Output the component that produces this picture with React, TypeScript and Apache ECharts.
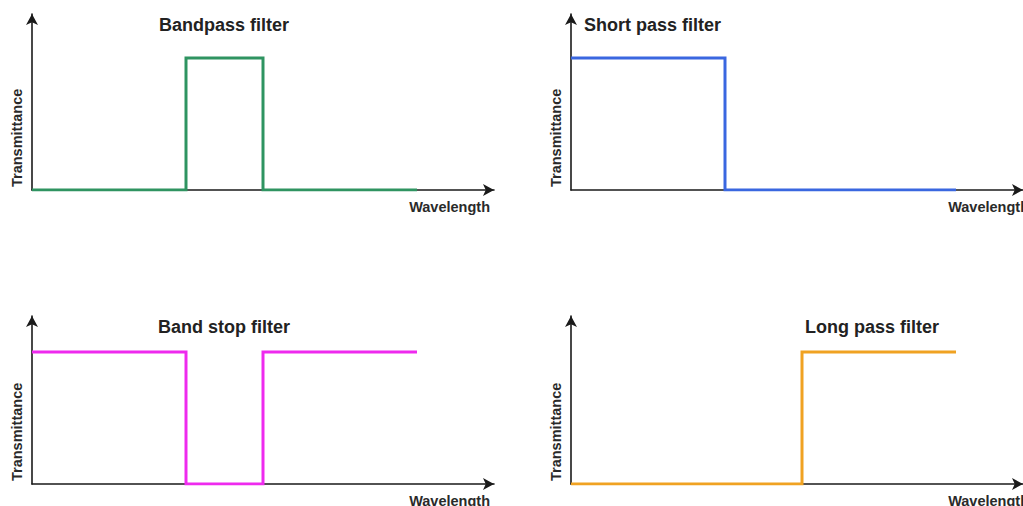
import React, { useEffect, useRef } from "react";
import * as echarts from "echarts";

const titles = ["Bandpass filter", "Short pass filter", "Band stop filter", "Long pass filter"];
const xAxisName = "Wavelength";
const yAxisName = "Transmittance";
const colors = ["#2f9461", "#3a67e0", "#ee2aee", "#f0a222"];

const bandpass: [number, number][] = [[0, 0], [4, 0], [4, 3], [6, 3], [6, 0], [10, 0]];
const shortpass: [number, number][] = [[0, 3], [4, 3], [4, 0], [10, 0]];
const bandstop: [number, number][] = [[0, 3], [4, 3], [4, 0], [6, 0], [6, 3], [10, 3]];
const longpass: [number, number][] = [[0, 0], [6, 0], [6, 3], [10, 3]];
const seriesData = [bandpass, shortpass, bandstop, longpass];

const xMaxLeft = 12;
const xMaxRight = 11.74;
const yMaxTop = 4;
const yMaxBottom = 3.82;

const grids = [
  { left: 32, top: 14, width: 462, height: 176 },
  { left: 571, top: 14, width: 452, height: 176 },
  { left: 32, top: 316, width: 462, height: 168 },
  { left: 571, top: 316, width: 452, height: 168 },
];
const titlePos = [
  { left: 224, top: 16, align: "center" },
  { left: 584, top: 16, align: "left" },
  { left: 224, top: 318, align: "center" },
  { left: 805, top: 318, align: "left" },
];

export default function App() {
  const ref = useRef<HTMLDivElement>(null);
  useEffect(() => {
    if (!ref.current) return;
    const chart = echarts.init(ref.current, null, { renderer: "svg" });
    const axisLine = {
      show: true,
      symbol: ["none", "arrow"],
      symbolSize: [9, 11],
      lineStyle: { color: "#1a1a1a", width: 1.6 },
    };
    const textStyleBold = {
      fontFamily: "Liberation Sans, Arial, sans-serif",
      fontWeight: "bold" as const,
      color: "#222",
    };
    const graphics: any[] = [];
    grids.forEach((g, i) => {
      graphics.push({
        type: "text",
        x: g.left - 15,
        y: g.top + g.height - 3,
        rotation: Math.PI / 2,
        style: {
          text: yAxisName,
          align: "left",
          verticalAlign: "middle",
          fontSize: 14.5,
          ...textStyleBold,
          fill: "#2a2a2a",
        },
      });
      graphics.push({
        type: "text",
        x: i % 2 === 0 ? g.left + g.width - 4 : 1029,
        y: g.top + g.height + 17,
        style: {
          text: xAxisName,
          align: "right",
          verticalAlign: "middle",
          fontSize: 14.5,
          ...textStyleBold,
          fill: "#2a2a2a",
        },
      });
    });
    chart.setOption({
      animation: false,
      backgroundColor: "#ffffff",
      title: titles.map((t, i) => ({
        text: t,
        left: titlePos[i].left,
        top: titlePos[i].top,
        textAlign: titlePos[i].align,
        padding: 0,
        textStyle: { ...textStyleBold, fontSize: 18 },
      })),
      grid: grids.map((g) => ({ ...g, containLabel: false })),
      xAxis: grids.map((_, i) => ({
        type: "value",
        gridIndex: i,
        min: 0,
        max: i % 2 === 0 ? xMaxLeft : xMaxRight,
        axisLine,
        axisTick: { show: false },
        axisLabel: { show: false },
        splitLine: { show: false },
      })),
      yAxis: grids.map((_, i) => ({
        type: "value",
        gridIndex: i,
        min: 0,
        max: i < 2 ? yMaxTop : yMaxBottom,
        axisLine,
        axisTick: { show: false },
        axisLabel: { show: false },
        splitLine: { show: false },
      })),
      series: seriesData.map((d, i) => ({
        type: "line",
        xAxisIndex: i,
        yAxisIndex: i,
        data: d,
        showSymbol: false,
        symbol: "none",
        z: 3,
        lineStyle: { color: colors[i], width: 3, join: "miter", cap: "butt" },
      })),
      graphic: graphics,
    });
    return () => chart.dispose();
  }, []);
  return (
    <div
      ref={ref}
      style={{ position: "fixed", left: 0, top: 0, width: 1023, height: 506, background: "#fff" }}
    />
  );
}
